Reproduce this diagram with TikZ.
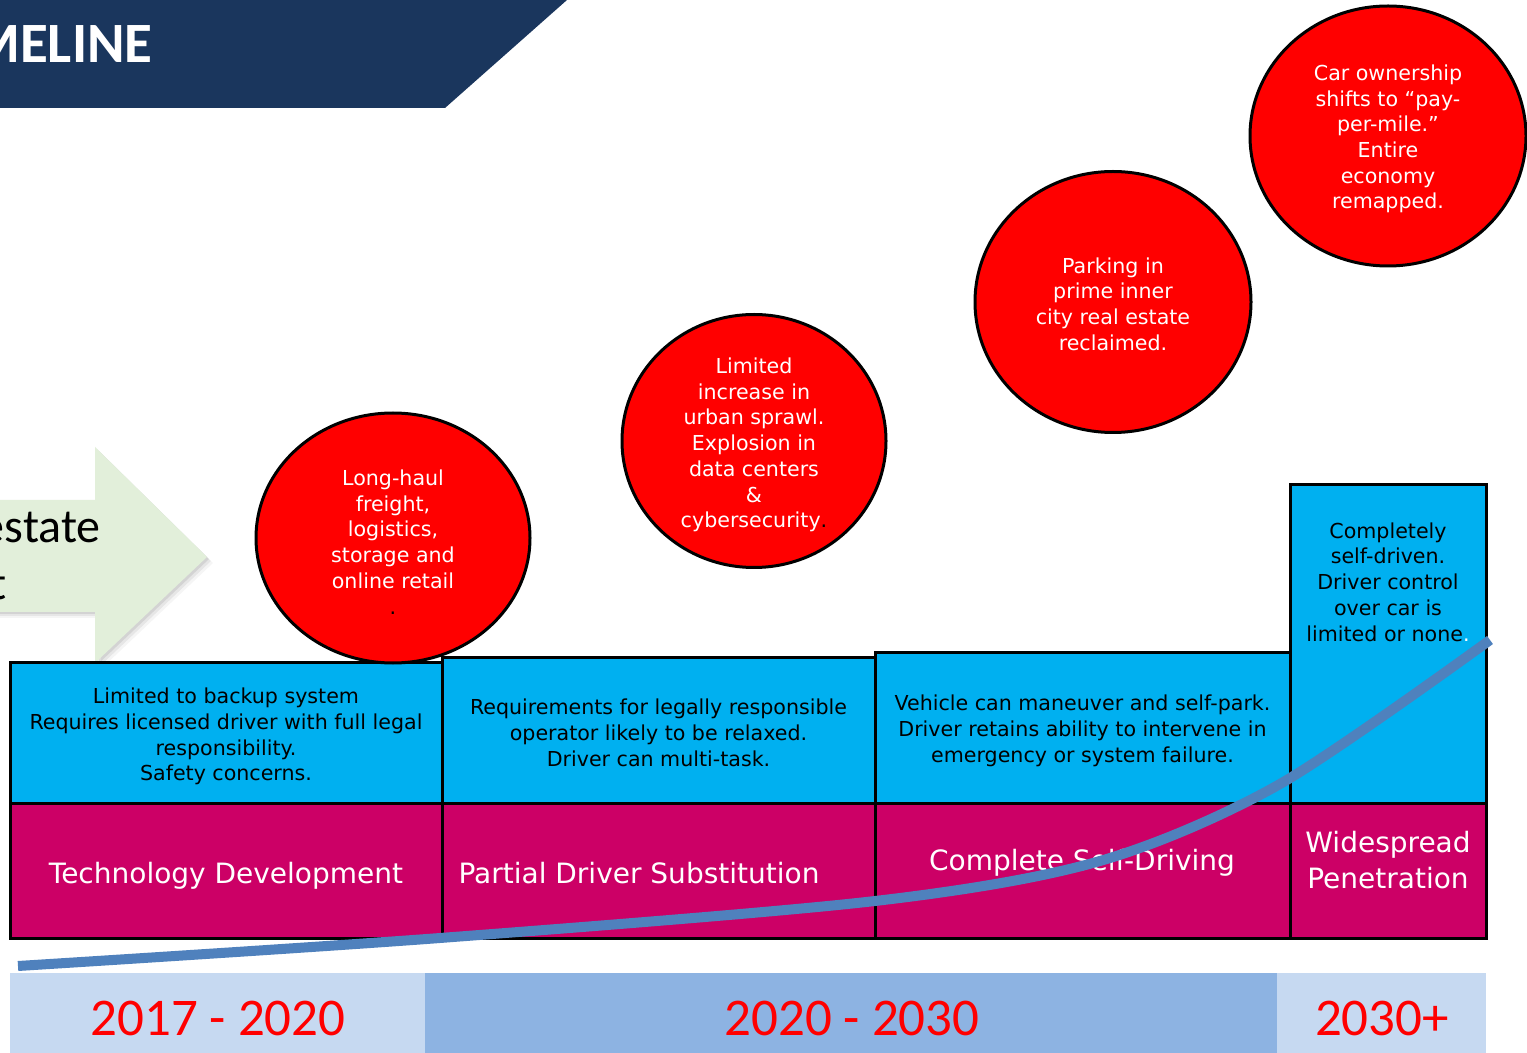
\documentclass[tikz,border=0pt]{standalone}
\usepackage{fontspec}
\setmainfont{DejaVu Sans}
\newfontfamily\calibri{Carlito}
\usetikzlibrary{shapes.geometric}
\definecolor{navy}{HTML}{1A365D}
\definecolor{arrowgreen}{HTML}{E2EFDA}
\definecolor{boxblue}{HTML}{00B0F0}
\definecolor{boxmag}{HTML}{CC0066}
\definecolor{bubred}{HTML}{FF0000}
\definecolor{yearlight}{HTML}{C6D9F1}
\definecolor{yearmid}{HTML}{8DB3E2}
\definecolor{curveblue}{HTML}{4F81BD}
\begin{document}
\begin{tikzpicture}[x=0.5pt,y=-0.5pt,
  blueb/.style={draw=black, line width=1.5pt, fill=boxblue, inner sep=0pt},
  smalltext/.style={inner sep=0pt, align=center, font=\fontsize{10.3}{12.85}\selectfont},
  magb/.style={draw=black, line width=1.5pt, fill=boxmag, inner sep=0pt},
  maglabel/.style={text=white, inner sep=0pt, align=center, font=\fontsize{14}{18}\selectfont},
  bubble/.style={ellipse, draw=black, line width=1.5pt, fill=bubred, inner sep=0pt},
  bubtext/.style={smalltext, text=white},
  yearlabel/.style={text=bubred, inner sep=0pt, font=\calibri\fontsize{26.5}{30}\selectfont},
  curve/.style={draw=curveblue, line width=5pt}
]
\useasboundingbox (0,0) rectangle (1527,1053);
\clip (0,0) rectangle (1527,1053);
\fill[white] (0,0) rectangle (1527,1053);

% title banner
\fill[navy] (0,0) -- (567,0) -- (445,108) -- (0,108) -- cycle;
\node[anchor=base east, text=white, inner sep=0pt, font=\calibri\bfseries\fontsize{28.5}{30}\selectfont] (title) at (153,63) {MELINE};

% green arrow with soft shadow
\foreach \o/\op in {6/0.04,4/0.06,2/0.08}{
  \fill[black, opacity=\op] (-20+\o,500+\o) -- (95+\o,500+\o) -- (95+\o,447+\o) -- (207+\o,557+\o) -- (95+\o,663+\o) -- (95+\o,612+\o) -- (-20+\o,612+\o) -- cycle;
}
\fill[arrowgreen] (-20,500) -- (95,500) -- (95,447) -- (207,557) -- (95,663) -- (95,612) -- (-20,612) -- cycle;
\node[anchor=base east, inner sep=0pt, font=\calibri\fontsize{24}{28}\selectfont] (est) at (101,543) {estate};
\node[anchor=base east, inner sep=0pt, font=\calibri\fontsize{24}{28}\selectfont] (estt) at (7,600) {t};

% blue boxes
\node[blueb, minimum width=216pt, minimum height=70.5pt] (b1) at (226,732.5) {};
\node[blueb, minimum width=216.5pt, minimum height=73pt] (b2) at (658.5,730) {};
\node[blueb, minimum width=207.5pt, minimum height=75.5pt] (b3) at (1082.5,727.5) {};
\node[blueb, minimum width=98pt, minimum height=159pt] (b4) at (1388,644) {};
\node[smalltext] (b1t) at (226,736.5)
  {Limited to backup system\\Requires licensed driver with full legal\\responsibility.\\Safety concerns.};
\node[smalltext] (b2t) at (658.5,733)
  {Requirements for legally responsible\\operator likely to be relaxed.\\Driver can multi-task.};
\node[smalltext] (b3t) at (1082.5,731)
  {Vehicle can maneuver and self-park.\\Driver retains ability to intervene in\\emergency or system failure.};
\node[smalltext] (b4t) at (1388,582)
  {Completely\\self-driven.\\Driver control\\over car is\\limited or none{\color{white}.}};

% magenta boxes
\node[magb, minimum width=216pt, minimum height=67.5pt] (m1) at (226,870.5) {};
\node[magb, minimum width=216.5pt, minimum height=67.5pt] (m2) at (658.5,870.5) {};
\node[magb, minimum width=207.5pt, minimum height=67.5pt] (m3) at (1082.5,870.5) {};
\node[magb, minimum width=98pt, minimum height=67.5pt] (m4) at (1388,870.5) {};
\node[maglabel, anchor=base] (m1t) at (226,883) {Technology Development};
\node[maglabel, anchor=base] (m2t) at (639,883) {Partial Driver Substitution};
\node[maglabel, anchor=base] (m3t) at (1082,870) {Complete Self-Driving};
\node[maglabel] (m4t) at (1388,860) {Widespread\\Penetration};

% bubbles
\node[bubble, minimum width=137pt, minimum height=125pt] (c1) at (393,538) {};
\node[bubble, minimum width=132pt, minimum height=126.5pt] (c2) at (754,441) {};
\node[bubble, minimum width=138pt, minimum height=130.5pt] (c3) at (1113,302) {};
\node[bubble, minimum width=138pt, minimum height=130pt] (c4) at (1388,136) {};
\node[bubtext] (c1t) at (393,542)
  {Long-haul\\freight,\\logistics,\\storage and\\online retail\\{\color{black}.}};
\node[bubtext] (c2t) at (754,445)
  {Limited\\increase in\\urban sprawl.\\Explosion in\\data centers\\\&\\cybersecurity{\color{black}.}};
\node[bubtext] (c3t) at (1113,304)
  {Parking in\\prime inner\\city real estate\\reclaimed.};
\node[bubtext] (c4t) at (1388,139)
  {Car ownership\\shifts to “pay-\\per-mile.”\\Entire\\economy\\remapped.};

% year bar
\fill[yearlight] (10,973) rectangle (425,1053);
\fill[yearmid] (425,973) rectangle (1277,1053);
\fill[yearlight] (1277,973) rectangle (1486,1053);
\node[yearlabel] (y1) at (218,1018) {2017 - 2020};
\node[yearlabel] (y2) at (852,1018) {2020 - 2030};
\node[yearlabel] (y3) at (1382,1018) {2030+};

% adoption curve
\draw[curve] plot[smooth, tension=0.5] coordinates
  {(18,966) (440,938) (875,901) (1100,861) (1280,784) (1490,640)};
\end{tikzpicture}
\end{document}
